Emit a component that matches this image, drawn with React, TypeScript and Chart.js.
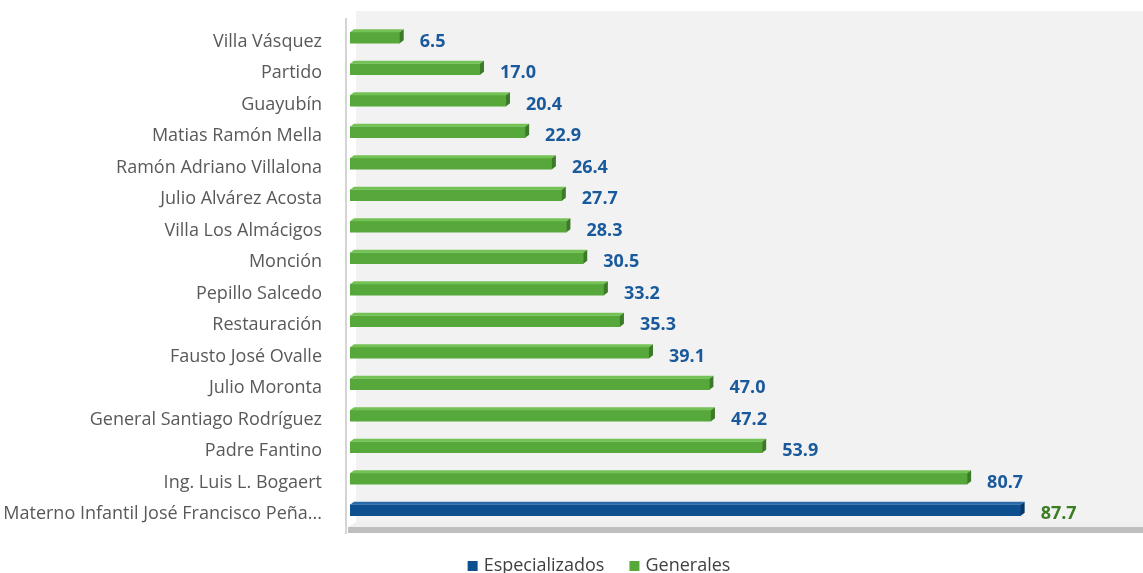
import React, { useEffect, useRef } from "react";
import { Chart, registerables } from "chart.js";

Chart.register(...registerables);

const categories = [
  "Villa Vásquez",
  "Partido",
  "Guayubín",
  "Matias Ramón Mella",
  "Ramón Adriano Villalona",
  "Julio Alvárez Acosta",
  "Villa Los Almácigos",
  "Monción",
  "Pepillo Salcedo",
  "Restauración",
  "Fausto José Ovalle",
  "Julio Moronta",
  "General Santiago Rodríguez",
  "Padre Fantino",
  "Ing. Luis L. Bogaert",
  "Materno Infantil José Francisco Peña...",
];

const especializados: (number | null)[] = [
  null, null, null, null, null, null, null, null, null, null, null, null, null, null, null, 87.7,
];

const generales: (number | null)[] = [
  6.5, 17.0, 20.4, 22.9, 26.4, 27.7, 28.3, 30.5, 33.2, 35.3, 39.1, 47.0, 47.2, 53.9, 80.7, null,
];

const seriesNames = ["Especializados", "Generales"];

const BLUE = "#0e4f8f";
const BLUE_TOP = "#2a6aa8";
const BLUE_SIDE = "#083765";
const GREEN = "#57a83b";
const GREEN_TOP = "#74c255";
const GREEN_SIDE = "#3b7a26";
const FONT = "'Open Sans', Lato, sans-serif";

const depth = { dx: 4, dy: 3 };

const wallsPlugin = {
  id: "walls",
  beforeDraw(chart: any) {
    const { ctx, chartArea, width } = chart;
    ctx.save();
    ctx.fillStyle = "#f2f2f2";
    ctx.fillRect(chartArea.left + 6, 11, width - chartArea.left - 6, chartArea.bottom - 4 - 11);
    ctx.fillStyle = "#efefef";
    ctx.beginPath();
    ctx.moveTo(chartArea.left + 6, chartArea.bottom - 4);
    ctx.lineTo(width, chartArea.bottom - 4);
    ctx.lineTo(width, chartArea.bottom + 1);
    ctx.lineTo(chartArea.left - 2, chartArea.bottom + 1);
    ctx.closePath();
    ctx.fill();
    ctx.fillStyle = "#bfbfbf";
    ctx.fillRect(chartArea.left - 2, chartArea.bottom + 1, width - chartArea.left + 2, 6);
    ctx.fillStyle = "#d4d4d4";
    ctx.fillRect(chartArea.left - 5, 18, 2, chartArea.bottom + 8 - 18);
    ctx.restore();
  },
};

const bar3dPlugin = {
  id: "bar3d",
  afterDatasetsDraw(chart: any) {
    const { ctx } = chart;
    ctx.save();
    chart.data.datasets.forEach((ds: any, di: number) => {
      const meta = chart.getDatasetMeta(di);
      const isBlue = di === 0;
      meta.data.forEach((el: any, i: number) => {
        const v = ds.data[i];
        if (v === null || v === undefined) return;
        const { x, y, base, height } = el;
        const top = y - height / 2;
        const bottom = y + height / 2;
        ctx.fillStyle = isBlue ? BLUE_TOP : GREEN_TOP;
        ctx.beginPath();
        ctx.moveTo(base, top);
        ctx.lineTo(x, top);
        ctx.lineTo(x + depth.dx, top - depth.dy);
        ctx.lineTo(base + depth.dx, top - depth.dy);
        ctx.closePath();
        ctx.fill();
        ctx.fillStyle = isBlue ? BLUE_SIDE : GREEN_SIDE;
        ctx.beginPath();
        ctx.moveTo(x, top);
        ctx.lineTo(x + depth.dx, top - depth.dy);
        ctx.lineTo(x + depth.dx, bottom - depth.dy);
        ctx.lineTo(x, bottom);
        ctx.closePath();
        ctx.fill();
        ctx.fillStyle = isBlue ? "#3a7d22" : "#1a5a9c";
        ctx.font = `bold 18px ${FONT}`;
        ctx.textAlign = "left";
        ctx.textBaseline = "middle";
        ctx.fillText(v.toFixed(1), x + 20, y + 4);
      });
    });
    ctx.restore();
  },
};

const legendPlugin = {
  id: "customLegend",
  afterDraw(chart: any) {
    const { ctx } = chart;
    ctx.save();
    ctx.font = `18px ${FONT}`;
    ctx.textBaseline = "middle";
    ctx.textAlign = "left";
    const colors = [BLUE, GREEN];
    const box = 10;
    const gap = 6;
    const itemGap = 25;
    const widths = seriesNames.map((n) => box + gap + ctx.measureText(n).width);
    const total = widths.reduce((a, b) => a + b, 0) + itemGap * (widths.length - 1);
    let x = 599 - total / 2;
    const y = 566;
    seriesNames.forEach((n, i) => {
      ctx.fillStyle = colors[i];
      ctx.fillRect(x, y - box / 2, box, box);
      ctx.fillStyle = "#404040";
      ctx.fillText(n, x + box + gap, y);
      x += widths[i] + itemGap;
    });
    ctx.restore();
  },
};

export default function App() {
  const canvasRef = useRef<HTMLCanvasElement | null>(null);

  useEffect(() => {
    if (!canvasRef.current) return;
    const chart = new Chart(canvasRef.current, {
      type: "bar",
      data: {
        labels: categories,
        datasets: [
          {
            label: seriesNames[0],
            data: especializados,
            backgroundColor: BLUE,
            barThickness: 11,
            grouped: false,
          },
          {
            label: seriesNames[1],
            data: generales,
            backgroundColor: GREEN,
            barThickness: 11,
            grouped: false,
          },
        ],
      },
      options: {
        indexAxis: "y",
        animation: false,
        responsive: false,
        maintainAspectRatio: false,
        layout: { padding: { top: 22, right: 0, left: 0, bottom: 47 } },
        scales: {
          x: { display: false, min: 0, max: 103.7 },
          y: {
            grid: { display: false },
            border: { display: false },
            ticks: {
              color: "#595959",
              font: { family: FONT, size: 18 },
              padding: 20,
              labelOffset: 4,
            },
            afterFit(scale: any) {
              scale.width = 350;
              scale.paddingTop = 0;
              scale.paddingBottom = 0;
            },
          },
        },
        plugins: {
          legend: { display: false },
          tooltip: { enabled: false },
        },
      },
      plugins: [wallsPlugin, bar3dPlugin, legendPlugin],
    });
    return () => chart.destroy();
  }, []);

  return (
    <div style={{ position: "absolute", left: 0, top: 0, width: 1143, height: 573 }}>
      <canvas ref={canvasRef} width={1143} height={573} />
    </div>
  );
}
